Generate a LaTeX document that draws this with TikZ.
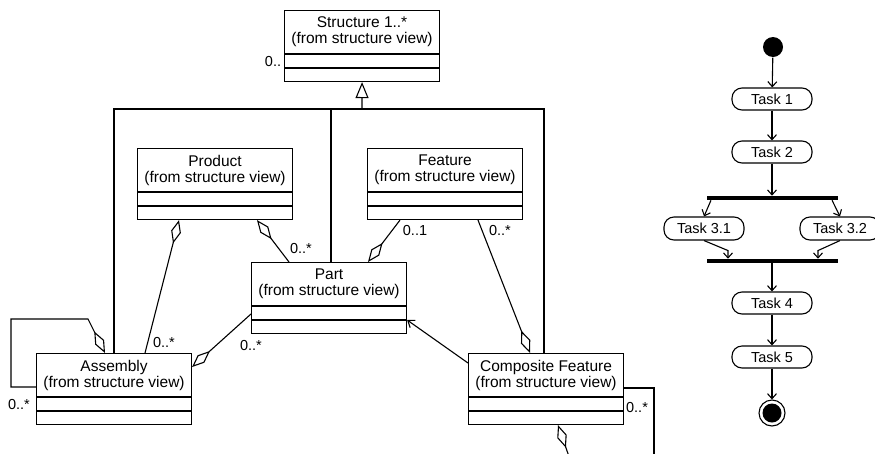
\documentclass[tikz,border=0pt]{standalone}
\usepackage{fontspec}
\setmainfont{Liberation Sans}
\usetikzlibrary{arrows.meta,calc}

% UML class box: name, x, y (top left corner), title
\newcommand\umlclass[4]{%
  \node[classbox] (#1) at (#2,#3) {};
  \draw ([yshift=-44pt]#1.north west) -- ([yshift=-44pt]#1.north east);
  \draw ([yshift=-58pt]#1.north west) -- ([yshift=-58pt]#1.north east);
  \node[classtext] (#1-t) at ([yshift=-22pt]#1.north) {#4\\(from structure view)};
}

\begin{document}
\begin{tikzpicture}[x=1pt,y=-1pt,line width=1.1pt,
  classbox/.style={draw,anchor=north west,minimum width=155pt,minimum height=71pt,inner sep=0pt},
  classtext/.style={align=center,font=\fontsize{15.5}{16}\selectfont,inner sep=0pt},
  mult/.style={font=\fontsize{14.5}{16}\selectfont,inner sep=0pt},
  aggstart/.style={{Diamond[open,length=24pt,width=10pt]}-},
  aggend/.style={-{Diamond[open,length=24pt,width=10pt]}},
  flow/.style={-{Straight Barb[length=5pt,width=9pt]}},
  task/.style={draw,rounded corners=10pt,minimum width=80pt,minimum height=22pt,inner sep=0pt,font=\fontsize{14.5}{16}\selectfont},
  syncbar/.style={fill,minimum width=131pt,minimum height=3.5pt,inner sep=0pt},
  startdot/.style={circle,fill,minimum size=20pt,inner sep=0pt},
  enddot/.style={circle,draw,minimum size=26pt,inner sep=0pt}]

\useasboundingbox[fill=white] (0,0) rectangle (875,453);

% ---------- structure view: class diagram ----------
\umlclass{struct}{284}{10}{Structure 1..*}
\umlclass{prod}{137}{148}{Product}
\umlclass{feat}{367}{148}{Feature}
\umlclass{part}{251}{262}{Part}
\umlclass{asm}{36}{353}{Assembly}
\umlclass{comp}{468}{353}{Composite Feature}

% generalisation towards Structure
\coordinate (gen) at (362,109);
\coordinate (ptop) at ($(part.north west)+(80,0)$);
\draw[-{Triangle[open,length=16pt,width=13pt]}] (gen) -- (struct.south);
\draw ($(asm.north west)+(78,0)$) |- (gen) -| ($(comp.north west)+(76,0)$);
\draw (ptop) -- (ptop |- gen);

% aggregations
\draw[aggstart] ($(prod.south west)+(42,0)$) -- ($(asm.north west)+(109,0)$);
\draw[aggstart] ($(prod.south west)+(120,0)$) -- ($(part.north west)+(38,0)$);
\draw[aggend] ($(feat.south west)+(33,0)$) -- ($(part.north west)+(117,0)$);
\draw[aggend] ($(feat.south west)+(111,0)$) -- ($(comp.north west)+(62,0)$);
\draw[aggend] ($(part.north west)+(0,52)$) -- ($(asm.north east)+(0,14)$);
\draw[aggend] ($(asm.north west)+(0,34)$) -| (11,319) -- (88,319) -- ($(asm.north west)+(69,0)$);
\draw[aggstart] ($(comp.south west)+(90,0)$) -- ++(14,40);
\draw ($(comp.north east)+(0,35)$) -| (654,470);

% association Composite Feature -> Part
\draw[-{Straight Barb[length=6pt,width=9pt]}] ($(comp.north west)+(0,10)$) -- ($(part.north east)+(0,58)$);

% multiplicities
\node[mult] at (273,62) {0..};
\node[mult] at (164,343) {0..*};
\node[mult] at (301,249) {0..*};
\node[mult] at (415,231) {0..1};
\node[mult] at (500,231) {0..*};
\node[mult] at (251,346) {0..*};
\node[mult] at (19,405) {0..*};
\node[mult] at (637,408) {0..*};

% ---------- activity diagram ----------
\node[startdot] (start) at (773,47) {};
\node[task] (t1) at (772,99) {Task 1};
\node[task] (t2) at (772,152) {Task 2};
\node[syncbar] (fork) at (772,198) {};
\node[task,minimum height=23pt] (t31) at (704,228.5) {Task 3.1};
\node[task,minimum height=23pt] (t32) at (840,228.5) {Task 3.2};
\node[syncbar] (join) at (772,261) {};
\node[task] (t4) at (772,303) {Task 4};
\node[task] (t5) at (772,357) {Task 5};
\node[enddot] (end) at (772,413) {};
\fill (end.center) circle (9.5);

\draw[flow] (start) -- (t1);
\draw[flow] (t1) -- (t2);
\draw[flow] (t2) -- (fork);
\draw[flow] ($(fork.south west)+(5,0)$) -- (t31.north);
\draw[flow] ($(fork.south east)+(-6,0)$) -- (t32.north);
\coordinate (j1) at ($(t31.south)+(24,10)$);
\coordinate (j2) at ($(t32.south)+(-22,10)$);
\draw[flow] (t31.south) -- (j1) -- (j1 |- join.north);
\draw[flow] (t32.south) -- (j2) -- (j2 |- join.north);
\draw[flow] (join) -- (t4);
\draw[flow] (t4) -- (t5);
\draw[flow] (t5) -- (end);

\end{tikzpicture}
\end{document}
